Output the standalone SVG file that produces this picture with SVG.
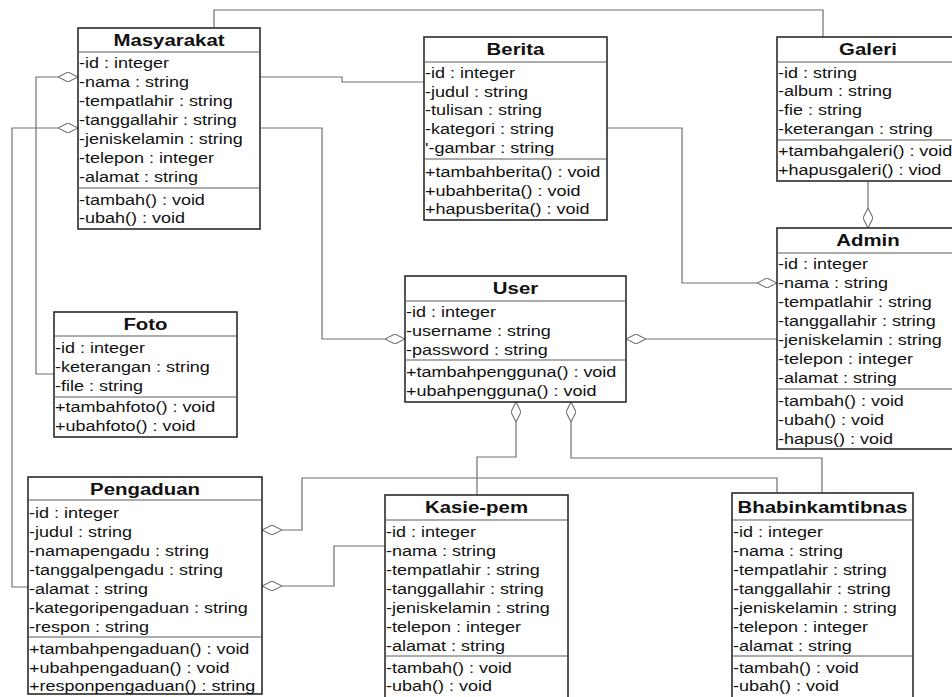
<svg xmlns="http://www.w3.org/2000/svg" width="952" height="697" viewBox="0 0 952 697">
  <style>
    .box { fill: #ffffff; stroke: #2b2b2b; stroke-width: 1.6; }
    .sep { stroke: #5a5a5a; stroke-width: 1.2; fill: none; }
    .conn { fill: none; stroke: #707070; stroke-width: 1.2; }
    .t { font-family: "Liberation Sans", Arial, sans-serif; font-size: 15px; fill: #111111; }
    .h { font-family: "Liberation Sans", Arial, sans-serif; font-size: 17px; font-weight: bold; fill: #111111; text-anchor: middle; }
  </style>
  <defs>
    <!-- hollow aggregation diamond, drawn at the start of each connector -->
    <marker id="agg" viewBox="0 0 20 10" refX="0" refY="5" markerWidth="20" markerHeight="10" markerUnits="userSpaceOnUse" orient="auto">
      <path d="M0,5 L10,0 L20,5 L10,10 Z" fill="#ffffff" stroke="#707070" stroke-width="1.1"/>
    </marker>
  </defs>
  <rect width="952" height="697" fill="#ffffff"/>

  <!-- connectors -->
  <g id="connectors">
    <path class="conn" d="M214,28 V10 H823 V37"/>
    <path class="conn" d="M260,77 H342 V82 H424"/>
    <path class="conn" marker-start="url(#agg)" d="M405,339 H322 V128 H260"/>
    <path class="conn" marker-start="url(#agg)" d="M777,283 H682 V128 H607"/>
    <path class="conn" marker-start="url(#agg)" d="M868,228 V181"/>
    <path class="conn" marker-start="url(#agg)" d="M626,339 H777"/>
    <path class="conn" marker-start="url(#agg)" d="M78,77 H36 V374 H54"/>
    <path class="conn" marker-start="url(#agg)" d="M78,128 H12 V587 H28"/>
    <path class="conn" marker-start="url(#agg)" d="M516,402 V457 H477 V495"/>
    <path class="conn" marker-start="url(#agg)" d="M571,402 V458 H822 V493"/>
    <path class="conn" marker-start="url(#agg)" d="M262,530 H302 V478 H777 V493"/>
    <path class="conn" marker-start="url(#agg)" d="M262,586 H334 V546 H385"/>
  </g>

  <!-- Masyarakat -->
  <g id="masyarakat">
    <rect class="box" x="78" y="28" width="182" height="201"/>
    <path class="sep" d="M78,52 H260 M78,188 H260"/>
    <g transform="scale(1.2 1)">
      <text class="h" x="140.83" y="46.5">Masyarakat</text>
      <text class="t" x="65.83" y="68">-id : integer</text>
      <text class="t" x="65.83" y="87">-nama : string</text>
      <text class="t" x="65.83" y="106">-tempatlahir : string</text>
      <text class="t" x="65.83" y="125">-tanggallahir : string</text>
      <text class="t" x="65.83" y="144">-jeniskelamin : string</text>
      <text class="t" x="65.83" y="163">-telepon : integer</text>
      <text class="t" x="65.83" y="182">-alamat : string</text>
      <text class="t" x="65.83" y="205">-tambah() : void</text>
      <text class="t" x="65.83" y="223.5">-ubah() : void</text>
    </g>
  </g>

  <!-- Berita -->
  <g id="berita">
    <rect class="box" x="424" y="37" width="183" height="183"/>
    <path class="sep" d="M424,62 H607 M424,159 H607"/>
    <g transform="scale(1.2 1)">
      <text class="h" x="429.58" y="55.5">Berita</text>
      <text class="t" x="354.17" y="78">-id : integer</text>
      <text class="t" x="354.17" y="97">-judul : string</text>
      <text class="t" x="354.17" y="115.5">-tulisan : string</text>
      <text class="t" x="354.17" y="134">-kategori : string</text>
      <text class="t" x="354.17" y="153">'-gambar : string</text>
      <text class="t" x="354.17" y="177">+tambahberita() : void</text>
      <text class="t" x="354.17" y="196">+ubahberita() : void</text>
      <text class="t" x="354.17" y="214.5">+hapusberita() : void</text>
    </g>
  </g>

  <!-- Galeri -->
  <g id="galeri">
    <rect class="box" x="777" y="37" width="183" height="144"/>
    <path class="sep" d="M777,62 H960 M777,140 H960"/>
    <g transform="scale(1.2 1)">
      <text class="h" x="723.33" y="55.5">Galeri</text>
      <text class="t" x="648.33" y="78">-id : string</text>
      <text class="t" x="648.33" y="96.5">-album : string</text>
      <text class="t" x="648.33" y="115">-fie : string</text>
      <text class="t" x="648.33" y="134">-keterangan : string</text>
      <text class="t" x="648.33" y="156">+tambahgaleri() : void</text>
      <text class="t" x="648.33" y="175">+hapusgaleri() : viod</text>
    </g>
  </g>

  <!-- Admin -->
  <g id="admin">
    <rect class="box" x="777" y="228" width="183" height="221"/>
    <path class="sep" d="M777,253 H960 M777,389 H960"/>
    <g transform="scale(1.2 1)">
      <text class="h" x="723.33" y="246.5">Admin</text>
      <text class="t" x="648.33" y="269">-id : integer</text>
      <text class="t" x="648.33" y="288">-nama : string</text>
      <text class="t" x="648.33" y="307">-tempatlahir : string</text>
      <text class="t" x="648.33" y="326">-tanggallahir : string</text>
      <text class="t" x="648.33" y="345">-jeniskelamin : string</text>
      <text class="t" x="648.33" y="364">-telepon : integer</text>
      <text class="t" x="648.33" y="383">-alamat : string</text>
      <text class="t" x="648.33" y="406">-tambah() : void</text>
      <text class="t" x="648.33" y="425">-ubah() : void</text>
      <text class="t" x="648.33" y="444">-hapus() : void</text>
    </g>
  </g>

  <!-- User -->
  <g id="user">
    <rect class="box" x="405" y="276" width="221" height="126"/>
    <path class="sep" d="M405,301 H626 M405,360 H626"/>
    <g transform="scale(1.2 1)">
      <text class="h" x="429.58" y="294.5">User</text>
      <text class="t" x="338.33" y="317">-id : integer</text>
      <text class="t" x="338.33" y="336">-username : string</text>
      <text class="t" x="338.33" y="355">-password : string</text>
      <text class="t" x="338.33" y="377">+tambahpengguna() : void</text>
      <text class="t" x="338.33" y="396">+ubahpengguna() : void</text>
    </g>
  </g>

  <!-- Foto -->
  <g id="foto">
    <rect class="box" x="54" y="312" width="183" height="125"/>
    <path class="sep" d="M54,336 H237 M54,397 H237"/>
    <g transform="scale(1.2 1)">
      <text class="h" x="121.25" y="330">Foto</text>
      <text class="t" x="45.83" y="353">-id : integer</text>
      <text class="t" x="45.83" y="372">-keterangan : string</text>
      <text class="t" x="45.83" y="391">-file : string</text>
      <text class="t" x="45.83" y="412">+tambahfoto() : void</text>
      <text class="t" x="45.83" y="431">+ubahfoto() : void</text>
    </g>
  </g>

  <!-- Pengaduan -->
  <g id="pengaduan">
    <rect class="box" x="28" y="477" width="234" height="217"/>
    <path class="sep" d="M28,500 H262 M28,637 H262"/>
    <g transform="scale(1.2 1)">
      <text class="h" x="120.83" y="495">Pengaduan</text>
      <text class="t" x="24.17" y="518">-id : integer</text>
      <text class="t" x="24.17" y="537">-judul : string</text>
      <text class="t" x="24.17" y="556">-namapengadu : string</text>
      <text class="t" x="24.17" y="575">-tanggalpengadu : string</text>
      <text class="t" x="24.17" y="594">-alamat : string</text>
      <text class="t" x="24.17" y="613">-kategoripengaduan : string</text>
      <text class="t" x="24.17" y="632">-respon : string</text>
      <text class="t" x="24.17" y="654">+tambahpengaduan() : void</text>
      <text class="t" x="24.17" y="673">+ubahpengaduan() : void</text>
      <text class="t" x="24.17" y="691">+responpengaduan() : string</text>
    </g>
  </g>

  <!-- Kasie-pem -->
  <g id="kasie-pem">
    <rect class="box" x="385" y="495" width="183" height="210"/>
    <path class="sep" d="M385,520 H568 M385,656 H568"/>
    <g transform="scale(1.2 1)">
      <text class="h" x="397.08" y="513.5">Kasie-pem</text>
      <text class="t" x="321.67" y="537">-id : integer</text>
      <text class="t" x="321.67" y="556">-nama : string</text>
      <text class="t" x="321.67" y="575">-tempatlahir : string</text>
      <text class="t" x="321.67" y="594">-tanggallahir : string</text>
      <text class="t" x="321.67" y="613">-jeniskelamin : string</text>
      <text class="t" x="321.67" y="632">-telepon : integer</text>
      <text class="t" x="321.67" y="651">-alamat : string</text>
      <text class="t" x="321.67" y="673">-tambah() : void</text>
      <text class="t" x="321.67" y="691">-ubah() : void</text>
    </g>
  </g>

  <!-- Bhabinkamtibnas -->
  <g id="bhabinkamtibnas">
    <rect class="box" x="732" y="493" width="181" height="212"/>
    <path class="sep" d="M732,520 H913 M732,656 H913"/>
    <g transform="scale(1.2 1)">
      <text class="h" x="685.42" y="513.5">Bhabinkamtibnas</text>
      <text class="t" x="610.83" y="537">-id : integer</text>
      <text class="t" x="610.83" y="556">-nama : string</text>
      <text class="t" x="610.83" y="575">-tempatlahir : string</text>
      <text class="t" x="610.83" y="594">-tanggallahir : string</text>
      <text class="t" x="610.83" y="613">-jeniskelamin : string</text>
      <text class="t" x="610.83" y="632">-telepon : integer</text>
      <text class="t" x="610.83" y="651">-alamat : string</text>
      <text class="t" x="610.83" y="673">-tambah() : void</text>
      <text class="t" x="610.83" y="691">-ubah() : void</text>
    </g>
  </g>
</svg>
